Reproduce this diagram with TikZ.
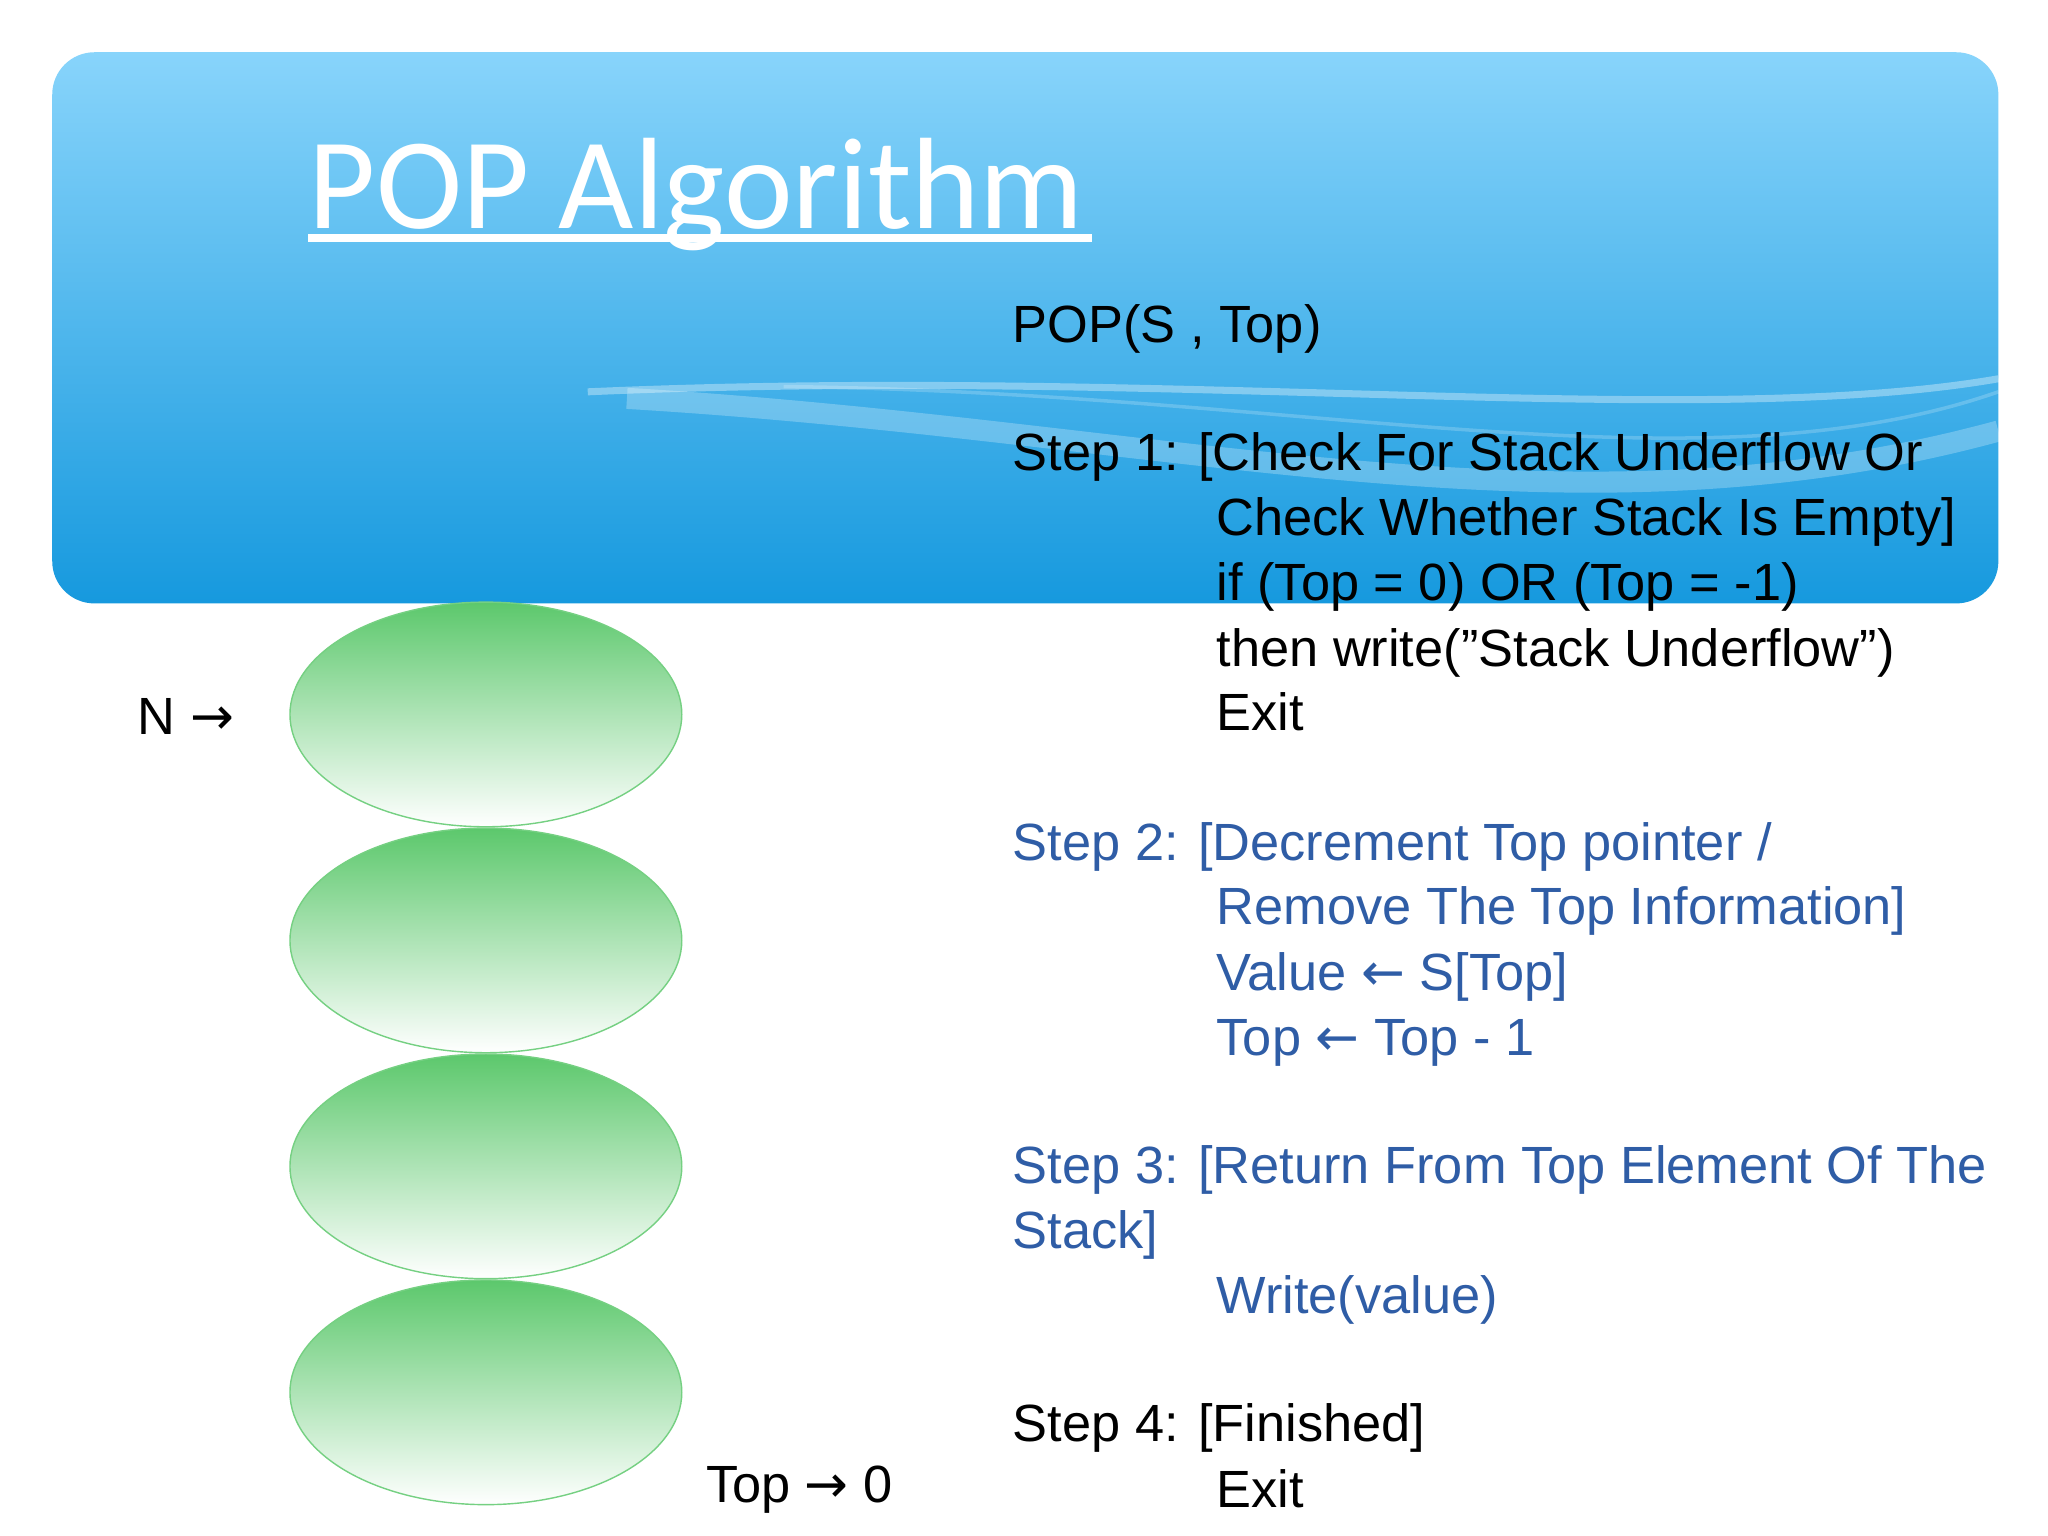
\documentclass[tikz,border=0pt]{standalone}
\usepackage{fontspec}
\setmainfont{Liberation Sans}
\newfontfamily\titlefont{Carlito}
\newfontfamily\symfont{DejaVu Sans}
\usetikzlibrary{positioning}
\definecolor{skytop}{HTML}{88D4FB}
\definecolor{skybot}{HTML}{1699DE}
\definecolor{stepblue}{HTML}{2F5DA6}
\definecolor{blobgreen}{HTML}{5CC86C}
\newcommand{\ra}{{\symfont\char"2192}}
\newcommand{\la}{{\symfont\char"2190}}
\tikzset{
  codeline/.style={anchor=base west, font=\fontsize{14.9}{16}\selectfont, inner sep=0pt},
}
\begin{document}
\begin{tikzpicture}[x=0.013061cm, y=-0.013061cm]
    % Frame
    \useasboundingbox (0,0) rectangle (1568,1176);
    \fill[white] (0,0) rectangle (1568,1176);

    % Banner
    \shade[top color=skytop, bottom color=skybot, rounded corners=12pt] (40,40) rectangle (1530,462);
    \draw[white, opacity=0.35, line width=2pt] (450,300) .. controls (900,280) and (1300,330) .. (1530,290);
    \draw[white, opacity=0.25, line width=6pt] (480,305) .. controls (900,330) and (1200,420) .. (1530,330);
    \draw[white, opacity=0.2, line width=1pt] (600,296) .. controls (1000,300) and (1300,380) .. (1530,300);
    \node[anchor=base west, inner sep=0pt, white, font=\titlefont\fontsize{37}{40}\selectfont] (title) at (236,175) {POP Algorithm};
    \draw[white, line width=2.2pt] (236,182) -- (836,182);

    % Stack cells
    \foreach \y in {547, 720, 893, 1066}
        \shade[top color=blobgreen, bottom color=white] (372,\y) ellipse [x radius=150, y radius=86];
    \foreach \y in {547, 720, 893, 1066}
        \draw[blobgreen!85] (372,\y) ellipse [x radius=150, y radius=86];
    \node[codeline] (nlabel) at (105,562) {N \ra};
    \node[codeline] (toplabel) at (540,1150) {Top \ra\ 0};

    % Algorithm text
    \node[codeline] (head) at (775,262) {POP(S , Top)};
    \node[codeline] (s1) at (775,360) {Step 1: [Check For Stack Underflow Or};
    \node[codeline] (s1a) at (931,410) {Check Whether Stack Is Empty]};
    \node[codeline] (s1b) at (931,460) {if (Top = 0) OR (Top = -1)};
    \node[codeline] (s1c) at (931,510) {then write(\symbol{34}Stack Underflow\symbol{34})};
    \node[codeline] (s1d) at (931,559) {Exit};
    \begin{scope}[stepblue]
    \node[codeline] (s2) at (775,659) {Step 2: [Decrement Top pointer /};
    \node[codeline] (s2a) at (931,708) {Remove The Top Information]};
    \node[codeline] (s2b) at (931,758) {Value \la\ S[Top]};
    \node[codeline] (s2c) at (931,808) {Top \la\ Top - 1};
    \node[codeline] (s3) at (775,906) {Step 3: [Return From Top Element Of The};
    \node[codeline] (s3a) at (775,956) {Stack]};
    \node[codeline] (s3b) at (931,1006) {Write(value)};
    \end{scope}
    \node[codeline] (s4) at (775,1104) {Step 4: [Finished]};
    \node[codeline] (s4a) at (931,1154) {Exit};
\end{tikzpicture}
\end{document}
